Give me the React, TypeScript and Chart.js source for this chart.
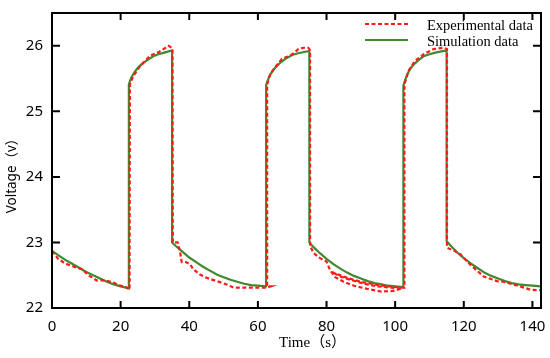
import React, { useEffect, useRef } from "react";
import { Chart, registerables } from "chart.js";

Chart.register(...registerables);

const X_TICKS = [0, 20, 40, 60, 80, 100, 120, 140];
const Y_TICKS = [22, 23, 24, 25, 26];
const X_MIN = 0;
const X_MAX = 142.5;
const Y_MIN = 22;
const Y_MAX = 26.5;

const X_TITLE = "Time（s）";
const Y_TITLE = "Voltage（v）";
const LEGEND_EXP = "Experimental data";
const LEGEND_SIM = "Simulation data";

const simT = [
  0, 2, 4, 6, 8, 10, 12, 14, 16, 18, 20, 22.4,
  22.4, 23, 23.7, 24.5, 25.5, 26.6, 28, 29.5, 31, 33, 35,
  35, 36, 38, 40, 42, 44, 46, 48, 50, 52, 54, 56, 58, 60, 62.4,
  62.4, 63, 63.6, 64.5, 65.5, 66.5, 68, 70, 72, 75,
  75, 76, 78, 80, 82, 84, 86, 88, 90, 92, 94, 96, 98, 100, 102.4,
  102.4, 103, 103.6, 104.4, 105.5, 106.8, 108.3, 110, 112, 115,
  115, 116, 118, 120, 122, 124, 126, 128, 130, 132, 134, 136, 138, 140, 142.5,
];
const simV = [
  22.87, 22.8, 22.73, 22.67, 22.61, 22.55, 22.5, 22.45, 22.4, 22.36, 22.33, 22.3,
  25.41, 25.5, 25.57, 25.63, 25.69, 25.74, 25.79, 25.84, 25.87, 25.9, 25.93,
  23.0, 22.95, 22.86, 22.77, 22.7, 22.63, 22.57, 22.51, 22.47, 22.43, 22.4, 22.37, 22.35, 22.34, 22.33,
  25.4, 25.49, 25.56, 25.63, 25.69, 25.74, 25.8, 25.86, 25.89, 25.92,
  23.0, 22.94, 22.84, 22.75, 22.67, 22.6, 22.54, 22.49, 22.45, 22.41, 22.38, 22.36, 22.34, 22.33, 22.32,
  25.39, 25.49, 25.57, 25.65, 25.72, 25.78, 25.84, 25.87, 25.9, 25.93,
  23.02, 22.96, 22.85, 22.76, 22.68, 22.61, 22.54, 22.49, 22.45, 22.41, 22.38, 22.36, 22.35, 22.34, 22.33,
];

const expT = [
  0, 1.8, 3.8, 6.4, 8.8, 10.9, 13, 15.5, 17.9, 19.8, 21.3, 22.6,
  22.7, 23.7, 25.7, 28.6, 31, 32.5, 34, 35.1,
  35.2, 36.6, 37.3, 37.8, 39, 40.2, 41.2, 43.1, 45.1, 48, 50.9, 52.9, 56.6, 60.4, 62.5, 63.7, 62.7,
  62.7, 63.6, 65, 67, 69.4, 70.8, 71.8, 73.3, 74.7, 75.2,
  75.2, 76.2, 78.1, 80, 81, 82.5, 85, 88, 92, 96, 99.5, 102, 99, 95, 91, 87, 84, 81.5, 83, 86, 90, 95, 100, 102.7,
  102.7, 103.9, 105.8, 108.3, 111.2, 114.1, 115.1,
  115.1, 117, 119, 121.9, 125.8, 129.7, 131.5, 133.6, 136.4, 139.4, 142.5,
];
const expV = [
  22.87, 22.75, 22.68, 22.63, 22.59, 22.49, 22.42, 22.42, 22.39, 22.34, 22.33, 22.28,
  25.41, 25.54, 25.69, 25.85, 25.9, 25.95, 26.0, 25.96,
  23.0, 23.0, 22.86, 22.7, 22.7, 22.67, 22.59, 22.51, 22.46, 22.41, 22.36, 22.31, 22.31, 22.31, 22.31, 22.33, 22.33,
  25.41, 25.57, 25.67, 25.8, 25.85, 25.9, 25.95, 25.97, 25.97, 25.93,
  22.95, 22.84, 22.76, 22.71, 22.58, 22.47, 22.4, 22.34, 22.29, 22.25, 22.26, 22.3, 22.31, 22.33, 22.37, 22.43, 22.48, 22.55, 22.52, 22.46, 22.4, 22.35, 22.32, 22.31,
  25.41, 25.62, 25.77, 25.87, 25.95, 25.97, 25.95,
  22.92, 22.88, 22.82, 22.66, 22.48, 22.41, 22.4, 22.37, 22.33, 22.28, 22.27,
];

const RED = "#ff1a1a";
const GREEN = "#3f8a2e";
const TICK_FONT = { family: "'Noto Sans', sans-serif", size: 15 };

const framePlugin = {
  id: "frameAndLegend",
  afterDraw(chart: any) {
    const ctx = chart.ctx;
    const a = chart.chartArea;
    const xs = chart.scales.x;
    const ys = chart.scales.y;
    ctx.save();
    ctx.strokeStyle = "#000";
    ctx.lineWidth = 2;
    ctx.strokeRect(a.left, a.top, a.right - a.left, a.bottom - a.top);
    ctx.beginPath();
    for (const v of X_TICKS) {
      const px = xs.getPixelForValue(v);
      ctx.moveTo(px, a.bottom);
      ctx.lineTo(px, a.bottom - 7);
      ctx.moveTo(px, a.top);
      ctx.lineTo(px, a.top + 7);
    }
    for (const v of Y_TICKS) {
      const py = ys.getPixelForValue(v);
      ctx.moveTo(a.left, py);
      ctx.lineTo(a.left + 8, py);
      ctx.moveTo(a.right, py);
      ctx.lineTo(a.right - 8, py);
    }
    ctx.stroke();

    // legend
    ctx.lineWidth = 2.2;
    ctx.strokeStyle = RED;
    ctx.setLineDash([4, 2.5]);
    ctx.beginPath();
    ctx.moveTo(a.right - 176, a.top + 11);
    ctx.lineTo(a.right - 133, a.top + 11);
    ctx.stroke();
    ctx.setLineDash([]);
    ctx.strokeStyle = GREEN;
    ctx.beginPath();
    ctx.moveTo(a.right - 176, a.top + 27);
    ctx.lineTo(a.right - 133, a.top + 27);
    ctx.stroke();
    ctx.fillStyle = "#000";
    ctx.font = "14.5px 'Liberation Serif', serif";
    ctx.textAlign = "left";
    ctx.textBaseline = "middle";
    ctx.fillText(LEGEND_EXP, a.right - 114, a.top + 13);
    ctx.fillText(LEGEND_SIM, a.right - 114, a.top + 29);

    // axis titles
    ctx.font = "15px 'Liberation Serif', 'Noto Sans CJK SC', serif";
    ctx.textAlign = "center";
    ctx.fillText(X_TITLE, (a.left + a.right) / 2 + 16, a.bottom + 35);
    ctx.save();
    ctx.translate(12, (a.top + a.bottom) / 2 + 12);
    ctx.rotate(-Math.PI / 2);
    ctx.font = "13.5px 'Noto Sans', 'Noto Sans CJK SC', sans-serif";
    ctx.fillText(Y_TITLE, 0, 0);
    ctx.restore();
    ctx.restore();
  },
};

export default function App() {
  const ref = useRef<HTMLCanvasElement | null>(null);
  useEffect(() => {
    document.body.style.margin = "0";
    const canvas = ref.current;
    if (!canvas) return;
    const chart = new Chart(canvas, {
      type: "line",
      data: {
        datasets: [
          {
            label: LEGEND_EXP,
            data: expT.map((t, i) => ({ x: t, y: expV[i] })),
            borderColor: RED,
            borderWidth: 2.2,
            borderDash: [4, 2.5],
            pointRadius: 0,
            tension: 0,
            fill: false,
          },
          {
            label: LEGEND_SIM,
            data: simT.map((t, i) => ({ x: t, y: simV[i] })),
            borderColor: GREEN,
            borderWidth: 2.2,
            pointRadius: 0,
            tension: 0,
            fill: false,
          },
        ],
      },
      options: {
        animation: false,
        responsive: false,
        devicePixelRatio: 1,
        parsing: false as any,
        layout: { padding: { top: 13, right: 9, left: 0, bottom: 0 } },
        plugins: { legend: { display: false }, tooltip: { enabled: false } },
        scales: {
          x: {
            type: "linear",
            min: X_MIN,
            max: X_MAX,
            grid: { display: false, drawTicks: false },
            border: { display: false },
            ticks: {
              stepSize: 20,
              includeBounds: false,
              padding: 10,
              color: "#000",
              font: TICK_FONT,
              maxRotation: 0,
            },
            afterFit: (s: any) => {
              s.height = 50;
              s.paddingLeft = 0;
              s.paddingRight = 0;
              s.paddingTop = 0;
              s.paddingBottom = 0;
            },
          },
          y: {
            type: "linear",
            min: Y_MIN,
            max: Y_MAX,
            grid: { display: false, drawTicks: false },
            border: { display: false },
            ticks: {
              stepSize: 1,
              includeBounds: false,
              padding: 9,
              color: "#000",
              font: TICK_FONT,
            },
            afterFit: (s: any) => {
              s.width = 52;
              s.paddingLeft = 0;
              s.paddingRight = 0;
              s.paddingTop = 0;
              s.paddingBottom = 0;
            },
          },
        },
      },
      plugins: [framePlugin],
    });
    return () => chart.destroy();
  }, []);
  return (
    <div style={{ width: 550, height: 358, background: "#fff" }}>
      <canvas ref={ref} width={550} height={358} style={{ display: "block" }} />
    </div>
  );
}
